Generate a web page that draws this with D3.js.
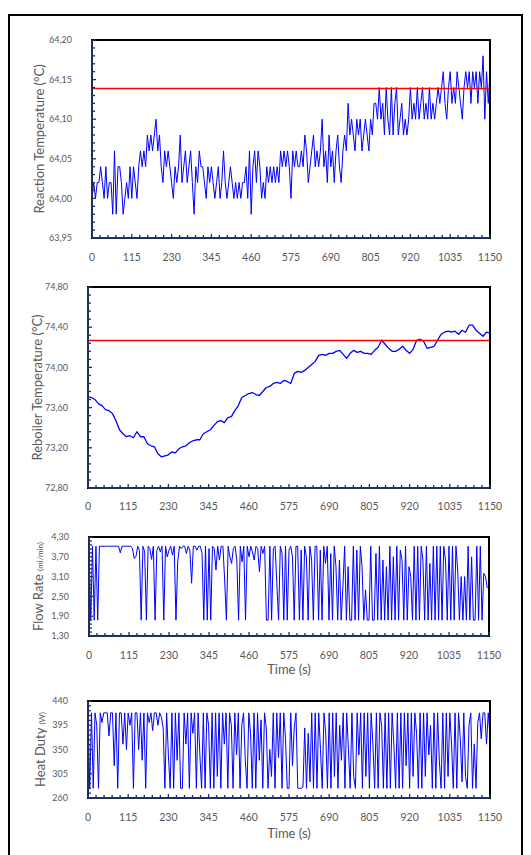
<!DOCTYPE html>
<html>
<head>
<meta charset="utf-8">
<script src="https://cdn.jsdelivr.net/npm/d3@7"></script>
<style>
  body { margin: 0; background: #fff; }
  svg { display: block; }
  text { font-family: Lato, "Liberation Sans", sans-serif; fill: #595959; }
</style>
</head>
<body>
<div id="wrapper"></div>
<script>
// x axis (seconds)
const timeTicks = [0, 115, 230, 345, 460, 575, 690, 805, 920, 1035, 1150]

// Reaction temperature, one sample every 5 s
const reactionTemp = [
  64.00,64.02,64.00,64.02,64.02,64.04,64.02,64.00,64.04,64.00,
  64.02,64.02,63.98,64.06,63.98,64.04,64.04,64.02,63.98,64.00,
  64.02,64.00,64.04,64.00,64.04,64.02,64.00,64.04,64.06,64.04,
  64.06,64.04,64.08,64.06,64.08,64.06,64.08,64.10,64.06,64.08,
  64.04,64.02,64.06,64.04,64.06,64.04,64.02,64.00,64.04,64.02,
  64.04,64.08,64.02,64.04,64.06,64.02,64.04,64.06,64.02,63.98,
  64.04,64.02,64.06,64.04,64.04,64.02,64.00,64.04,64.02,64.04,
  64.02,64.00,64.02,64.04,64.00,64.02,64.06,64.02,64.00,64.02,
  64.04,64.02,64.00,64.02,64.00,64.02,64.00,64.02,64.02,64.04,
  64.00,64.06,63.98,64.04,64.06,64.02,64.06,64.04,64.00,64.02,
  64.00,64.04,64.02,64.04,64.02,64.04,64.02,64.04,64.02,64.06,
  64.04,64.06,64.04,64.06,64.04,64.00,64.06,64.04,64.06,64.04,
  64.04,64.06,64.04,64.08,64.06,64.02,64.04,64.06,64.08,64.04,
  64.06,64.04,64.06,64.10,64.04,64.06,64.02,64.08,64.04,64.06,
  64.02,64.06,64.08,64.04,64.02,64.06,64.08,64.06,64.12,64.08,
  64.10,64.08,64.06,64.10,64.08,64.10,64.06,64.08,64.10,64.08,
  64.06,64.10,64.08,64.12,64.12,64.10,64.14,64.10,64.12,64.08,
  64.14,64.10,64.08,64.14,64.08,64.12,64.14,64.08,64.10,64.12,
  64.08,64.10,64.08,64.10,64.14,64.10,64.12,64.10,64.14,64.10,
  64.12,64.14,64.10,64.12,64.10,64.14,64.10,64.12,64.10,64.12,
  64.14,64.12,64.14,64.16,64.12,64.10,64.14,64.16,64.12,64.14,
  64.12,64.16,64.14,64.12,64.10,64.14,64.16,64.14,64.16,64.12,
  64.16,64.14,64.16,64.12,64.16,64.14,64.18,64.10,64.16,64.12,
  64.16
]
const reactionSetpoint = 64.14
const reactionTicks = [63.95, 64.00, 64.05, 64.10, 64.15, 64.20]

// Reboiler temperature, one sample every 10 s
const reboilerTemp = [
  73.71,73.70,73.68,73.64,73.62,73.58,73.57,73.54,73.47,73.38,
  73.34,73.31,73.32,73.30,73.36,73.31,73.31,73.24,73.22,73.21,
  73.14,73.11,73.12,73.13,73.16,73.15,73.19,73.21,73.22,73.25,
  73.27,73.28,73.28,73.34,73.36,73.38,73.42,73.46,73.47,73.45,
  73.50,73.51,73.57,73.62,73.70,73.72,73.74,73.75,73.73,73.72,
  73.76,73.80,73.81,73.84,73.85,73.84,73.87,73.86,73.84,73.94,
  73.96,73.95,73.97,74.00,74.03,74.06,74.12,74.13,74.12,74.14,
  74.14,74.16,74.17,74.13,74.09,74.14,74.17,74.15,74.16,74.14,
  74.14,74.13,74.17,74.20,74.27,74.23,74.19,74.16,74.16,74.18,
  74.21,74.17,74.14,74.18,74.27,74.28,74.26,74.19,74.20,74.21,
  74.27,74.33,74.35,74.36,74.35,74.36,74.33,74.37,74.35,74.42,
  74.42,74.37,74.34,74.31,74.35,74.34
]
const reboilerSetpoint = 74.27
const reboilerTicks = [72.80, 73.20, 73.60, 74.00, 74.40, 74.80]

// Flow rate (ml/min), one sample every 5 s
const flowRate = [
  4.02,1.78,4.02,1.78,4.02,1.78,4.02,4.02,4.02,4.02,
  4.02,4.02,4.02,4.02,4.02,4.02,4.02,4.02,3.82,4.02,
  4.02,4.02,4.02,4.02,4.02,3.95,3.65,3.70,4.02,3.90,
  1.78,4.02,3.85,1.78,4.02,3.95,3.62,4.02,1.78,3.90,
  4.02,3.85,4.02,1.78,4.02,3.70,3.90,4.02,3.75,4.02,
  1.78,3.55,4.02,3.95,4.02,4.02,3.80,4.02,3.90,2.90,
  4.02,4.02,3.90,4.02,4.02,3.80,1.78,4.02,1.78,3.95,
  1.78,4.02,3.95,3.30,4.02,3.60,4.02,4.02,3.00,1.78,
  4.02,3.70,3.50,3.95,4.02,3.60,1.78,4.02,3.55,4.02,
  1.78,4.02,3.70,4.02,3.85,3.60,4.02,3.95,3.25,4.02,
  3.80,4.02,1.78,1.78,4.02,1.78,3.95,4.02,2.90,1.78,
  4.02,3.80,1.78,4.02,1.78,3.90,4.02,3.70,1.78,4.02,
  4.02,1.78,3.90,1.78,4.02,3.70,1.78,4.02,3.60,1.78,
  4.02,4.02,1.78,3.90,1.78,4.02,3.50,4.02,1.78,3.80,
  1.78,4.02,3.40,1.78,3.60,1.78,2.80,4.02,1.78,3.40,
  1.78,1.78,4.02,1.78,3.90,1.78,4.02,3.40,1.78,2.70,
  1.78,1.78,4.02,1.78,1.78,3.80,1.78,4.02,1.78,3.60,
  1.78,3.40,1.78,4.02,1.78,3.70,1.78,4.02,1.78,3.90,
  3.60,1.78,4.02,1.78,3.40,3.10,1.78,4.02,1.78,4.02,
  1.78,4.02,3.60,1.78,4.02,1.78,3.50,1.78,4.02,1.78,
  4.02,1.78,4.02,1.78,4.02,3.60,1.78,4.02,1.78,4.02,
  1.78,4.02,3.30,1.78,3.10,1.78,3.10,1.78,4.02,1.78,
  3.70,1.78,1.78,4.02,1.78,4.02,1.78,3.20,3.10,2.75
]
const flowTicks = [1.30, 1.90, 2.50, 3.10, 3.70, 4.30]

// Heat duty (W), one sample every 5 s
const heatDuty = [
  418,278,418,278,418,395,278,418,400,418,
  418,418,375,418,418,320,418,278,418,418,
  360,418,350,418,395,418,278,418,418,350,
  418,330,418,278,418,400,418,385,418,418,
  395,418,410,390,278,418,340,278,418,278,
  418,330,418,278,278,418,360,418,278,418,
  380,418,278,418,340,278,418,278,418,395,
  278,418,278,418,300,418,278,418,360,418,
  278,418,395,278,418,340,418,278,395,418,
  330,278,418,380,278,418,278,418,330,405,
  278,418,390,278,350,300,418,278,418,335,
  418,278,418,370,278,278,418,320,390,418,
  278,278,278,280,390,278,380,290,418,278,
  418,278,418,350,278,418,380,278,418,278,
  418,300,418,278,395,330,418,278,418,350,
  278,418,300,278,418,340,418,278,418,300,
  418,278,418,360,278,418,278,418,395,278,
  418,278,418,278,418,360,278,418,278,418,
  278,418,320,418,278,418,300,418,380,278,
  418,278,418,300,418,340,395,278,418,278,
  418,330,278,418,278,418,300,418,360,278,
  418,278,418,370,290,418,300,278,395,418,
  278,360,278,400,418,370,418,418,360,418,
  375
]
const dutyTicks = [260, 305, 350, 395, 440]

const width = 531
const height = 855
const commaFmt = d => d3.format(".2f")(d).replace(".", ",")

const panels = [
  { values: reactionTemp, step: 5, yTicks: reactionTicks, setpoint: reactionSetpoint, fmt: commaFmt,
    box: { left: 92, top: 40, right: 490, bottom: 238 }, title: "Reaction Temperature  (°C)", unit: null,
    titleX: 39, tickLabelY: 261, timeLabelY: null, strokeWidth: 1 },
  { values: reboilerTemp, step: 10, yTicks: reboilerTicks, setpoint: reboilerSetpoint, fmt: commaFmt,
    box: { left: 88, top: 287, right: 490, bottom: 488 }, title: "Reboiler Temperature (°C)", unit: null,
    titleX: 37, tickLabelY: 510, timeLabelY: null, strokeWidth: 1.3 },
  { values: flowRate, step: 5, yTicks: flowTicks, setpoint: null, fmt: commaFmt,
    box: { left: 89, top: 537, right: 489, bottom: 636 }, title: "Flow Rate ", unit: "(ml/min)",
    titleX: 38, tickLabelY: 659, timeLabelY: 674, strokeWidth: 1 },
  { values: heatDuty, step: 5, yTicks: dutyTicks, setpoint: null, fmt: d3.format("d"),
    box: { left: 88, top: 701, right: 490, bottom: 798 }, title: "Heat Duty ", unit: "(W)",
    titleX: 40, tickLabelY: 821, timeLabelY: 838, strokeWidth: 1 }
]

const svg = d3.select("#wrapper").append("svg").attr("width", width).attr("height", height)

// outer frame (runs off the bottom of the page)
svg.append("rect")
  .attr("x", 9).attr("y", 15).attr("width", 513).attr("height", 860)
  .attr("fill", "none").attr("stroke", "#000").attr("stroke-width", 2)

const drawPanel = (p) => {
  const b = p.box
  const xScale = d3.scaleLinear().domain([0, 1150]).range([b.left, b.right])
  const yScale = d3.scaleLinear().domain(d3.extent(p.yTicks)).range([b.bottom, b.top])
  const g = svg.append("g")

  // series
  const line = d3.line()
    .x((d, i) => xScale(i * p.step))
    .y(d => yScale(d))
  g.append("path")
    .datum(p.values)
    .attr("d", line)
    .attr("fill", "none")
    .attr("stroke", "#0000ff")
    .attr("stroke-width", p.strokeWidth)
    .attr("stroke-linejoin", "round")

  // setpoint line, snapped to the pixel grid so it stays red
  if (p.setpoint !== null) {
    const sy = Math.round(yScale(p.setpoint)) + 0.5
    g.append("line")
      .attr("x1", b.left).attr("x2", b.right)
      .attr("y1", sy).attr("y2", sy)
      .attr("stroke", "#ff0000").attr("stroke-width", 1.3)
  }

  // frame
  g.append("rect")
    .attr("x", b.left).attr("y", b.top)
    .attr("width", b.right - b.left).attr("height", b.bottom - b.top)
    .attr("fill", "none").attr("stroke", "#000").attr("stroke-width", 2)

  // y axis line + ticks (inside)
  const yStep = p.yTicks[1] - p.yTicks[0]
  const yMinor = d3.range(0, (p.yTicks.length - 1) * 5 + 1).map(k => p.yTicks[0] + k * yStep / 5)
  g.append("line")
    .attr("x1", b.left).attr("x2", b.left).attr("y1", b.top).attr("y2", b.bottom)
    .attr("stroke", "#1f2f5c").attr("stroke-width", 2)
  g.selectAll(".ytick").data(yMinor).enter().append("line")
    .attr("x1", b.left).attr("x2", (d, k) => b.left + (k % 5 === 0 ? 4 : 3))
    .attr("y1", d => yScale(d)).attr("y2", d => yScale(d))
    .attr("stroke", "#1f2f5c").attr("stroke-width", 1.3)
  g.selectAll(".ylab").data(p.yTicks).enter().append("text")
    .attr("x", b.left - 20)
    .attr("y", d => yScale(d))
    .attr("dy", "0.35em")
    .attr("text-anchor", "end")
    .style("font-size", "9px")
    .text(p.fmt)

  // x axis line + ticks (inside)
  const xMinor = d3.range(0, 51).map(k => k * 23)
  g.append("line")
    .attr("x1", b.left).attr("x2", b.right).attr("y1", b.bottom).attr("y2", b.bottom)
    .attr("stroke", "#1f2f5c").attr("stroke-width", 2)
  g.selectAll(".xtick").data(xMinor).enter().append("line")
    .attr("x1", d => xScale(d)).attr("x2", d => xScale(d))
    .attr("y1", b.bottom).attr("y2", (d, k) => b.bottom - (k % 5 === 0 ? 4 : 3))
    .attr("stroke", "#1f2f5c").attr("stroke-width", 1.3)
  g.selectAll(".xlab").data(timeTicks).enter().append("text")
    .attr("x", d => xScale(d))
    .attr("y", p.tickLabelY)
    .attr("text-anchor", "middle")
    .style("font-size", "10.5px")
    .text(d => d)

  // axis titles
  const cy = (b.top + b.bottom) / 2
  const title = g.append("text")
    .attr("transform", `translate(${p.titleX},${cy}) rotate(-90)`)
    .attr("text-anchor", "middle")
    .attr("dy", "0.35em")
    .style("font-size", "13px")
    .text(p.title)
  if (p.unit) {
    title.append("tspan").style("font-size", "8px").text(p.unit)
  }
  if (p.timeLabelY) {
    g.append("text")
      .attr("x", (b.left + b.right) / 2)
      .attr("y", p.timeLabelY)
      .attr("text-anchor", "middle")
      .style("font-size", "13px")
      .text("Time (s)")
  }
}

panels.forEach(drawPanel)
</script>
</body>
</html>
